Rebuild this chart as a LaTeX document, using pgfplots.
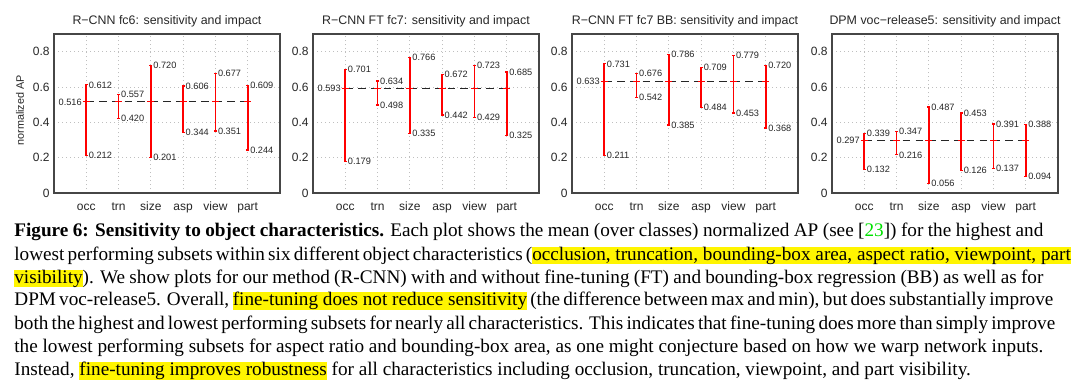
\documentclass[border=0pt]{standalone}
\usepackage{fontspec}
\setmainfont{Liberation Serif}
\newfontfamily\arial{Liberation Sans}
\usepackage{pgfplots}
\pgfplotsset{compat=1.18}
\definecolor{hlyellow}{RGB}{255,245,0}
\definecolor{citegreen}{RGB}{0,225,0}
\definecolor{axgray}{RGB}{70,70,70}
\definecolor{barred}{RGB}{255,0,0}
\newcommand{\hl}[1]{{\setlength{\fboxsep}{0pt}\colorbox{hlyellow}{\rule[-2.1pt]{0pt}{8.2pt}#1}}}
\newcommand{\lbl}{\arial\fontsize{4.6}{5}\selectfont}
% one bar: x, low, high
\newcommand{\ebar}[3]{\addplot[barred, line width=0.8pt, mark=-, mark size=0.8pt,
   mark options={solid, line width=0.6pt, barred},
   nodes near coords, point meta=explicit symbolic,
   nodes near coords style={anchor=west, font=\lbl, text=black!85, inner sep=1pt}]
   coordinates {(#1,#2) [#2] (#1,#3) [#3]};}
% mean: dashed line, plus marks, label
\newcommand{\emean}[1]{%
  \addplot[black!85, line width=0.6pt, dash pattern=on 3.8pt off 2.6pt] coordinates {(1,#1) (6,#1)};
  \addplot[barred, only marks, mark=+, mark size=1.7pt, mark options={line width=0.6pt},
    nodes near coords, point meta=explicit symbolic,
    nodes near coords style={anchor=east, font=\lbl, text=black!85, inner sep=1pt, xshift=-1pt}]
    coordinates {(1,#1) [#1]};
  \addplot[barred, only marks, mark=+, mark size=1.7pt, mark options={line width=0.6pt}]
    coordinates {(2,#1) (3,#1) (4,#1) (5,#1) (6,#1)};}

\pgfplotsset{
  every axis title/.style={at={(0.5,1)}, anchor=base, yshift=5pt},
  sens/.style={
    scale only axis, width=113pt, height=79.5pt, anchor=south west,
    xmin=0, xmax=7, ymin=0, ymax=0.9,
    xtick={1,2,3,4,5,6}, xticklabels={occ,trn,size,asp,view,part},
    ytick={0,0.2,0.4,0.6,0.8}, yticklabels={0,0.2,0.4,0.6,0.8},
    grid=major,
    major grid style={gray!50, dash pattern=on 0.4pt off 1.6pt, line width=0.4pt},
    axis line style={axgray, line width=0.6pt},
    major tick length=0pt,
    tick label style={font=\arial\fontsize{6}{7}\selectfont, text=black!85},
    xticklabel style={anchor=base, yshift=-8.5pt},
    yticklabel style={anchor=east, inner sep=0pt, xshift=-2pt},
    title style={font=\arial\fontsize{6.2}{7}\selectfont, text=black!85},
    clip=false,
  },
}

\begin{document}
\begin{tikzpicture}
\useasboundingbox (0,0) rectangle (540pt,194pt);

\begin{axis}[sens, at={(27pt,97.5pt)}, title={R−CNN fc6: sensitivity and impact},
  ylabel={normalized AP},
  ylabel style={font=\arial\fontsize{5.4}{6}\selectfont, text=black!85, at={(axis description cs:-0.15,0.52)}, anchor=center}]
\emean{0.516}
\ebar{1}{0.212}{0.612}
\ebar{2}{0.420}{0.557}
\ebar{3}{0.201}{0.720}
\ebar{4}{0.344}{0.606}
\ebar{5}{0.351}{0.677}
\ebar{6}{0.244}{0.609}
\end{axis}

\begin{axis}[sens, at={(156.5pt,97.5pt)}, title={R−CNN FT fc7: sensitivity and impact}]
\emean{0.593}
\ebar{1}{0.179}{0.701}
\ebar{2}{0.498}{0.634}
\ebar{3}{0.335}{0.766}
\ebar{4}{0.442}{0.672}
\ebar{5}{0.429}{0.723}
\ebar{6}{0.325}{0.685}
\end{axis}

\begin{axis}[sens, at={(286pt,97.5pt)}, title={R−CNN FT fc7 BB: sensitivity and impact}]
\emean{0.633}
\ebar{1}{0.211}{0.731}
\ebar{2}{0.542}{0.676}
\ebar{3}{0.385}{0.786}
\ebar{4}{0.484}{0.709}
\ebar{5}{0.453}{0.779}
\ebar{6}{0.368}{0.720}
\end{axis}

\begin{axis}[sens, at={(416pt,97.5pt)}, title={DPM voc−release5: sensitivity and impact}]
\emean{0.297}
\ebar{1}{0.132}{0.339}
\ebar{2}{0.216}{0.347}
\ebar{3}{0.056}{0.487}
\ebar{4}{0.126}{0.453}
\ebar{5}{0.137}{0.391}
\ebar{6}{0.094}{0.388}
\end{axis}

\begin{scope}[every node/.style={anchor=base west, inner sep=0pt, font=\fontsize{9.6}{11.6}\selectfont}]
\node at (7pt,75.85pt) {\makebox[514.5pt][s]{\textbf{Figure 6: Sensitivity to object characteristics.} Each plot shows the mean (over classes) normalized AP (see [\textcolor{citegreen}{23}]) for the highest and}};
\node at (7pt,64pt) {\makebox[514.5pt][s]{lowest performing subsets within six different object characteristics (\hl{occlusion, truncation, bounding-box area, aspect ratio, viewpoint, part}}};
\node at (7pt,52.5pt) {\makebox[514.5pt][s]{\hl{visibility}). We show plots for our method (R-CNN) with and without fine-tuning (FT) and bounding-box regression (BB) as well as for}};
\node at (7pt,41.15pt) {\makebox[514.5pt][s]{DPM voc-release5. Overall, \hl{fine-tuning does not reduce sensitivity} (the difference between max and min), but does substantially improve}};
\node at (7pt,29.5pt) {\makebox[514.5pt][s]{both the highest and lowest performing subsets for nearly all characteristics. This indicates that fine-tuning does more than simply improve}};
\node at (7pt,17.85pt) {\makebox[514.5pt][s]{the lowest performing subsets for aspect ratio and bounding-box area, as one might conjecture based on how we warp network inputs.}};
\node at (7pt,6.15pt) {Instead, \hl{fine-tuning improves robustness} for all characteristics including occlusion, truncation, viewpoint, and part visibility.};
\end{scope}
\end{tikzpicture}
\end{document}
